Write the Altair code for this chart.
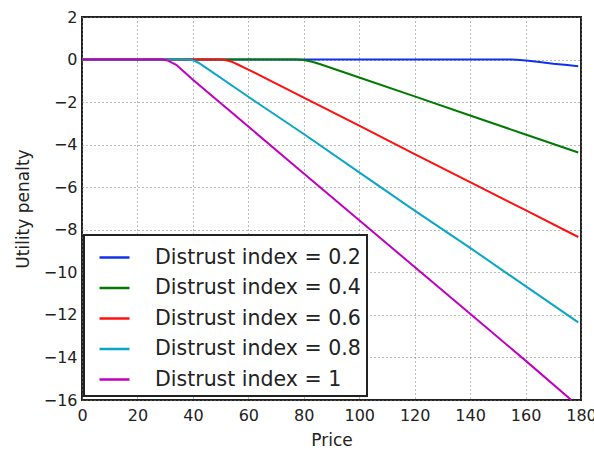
import altair as alt
import pandas as pd

labels = ["Distrust index = 0.2", "Distrust index = 0.4", "Distrust index = 0.6",
          "Distrust index = 0.8", "Distrust index = 1"]
colors = ["#1030f0", "#007a00", "#ff1010", "#0aa6c8", "#c000c0"]

price_02 = [0, 40, 80, 120, 150, 155, 158, 161, 165, 170, 175, 179]
pen_02 = [0, 0, 0, 0, 0, 0, -0.02, -0.06, -0.12, -0.2, -0.26, -0.31]

price_04 = [0, 40, 77, 80, 83, 86, 100, 120, 140, 160, 179]
pen_04 = [0, 0, 0, -0.02, -0.1, -0.22, -0.84, -1.73, -2.63, -3.52, -4.37]

price_06 = [0, 30, 50, 52, 54, 56, 60, 80, 100, 120, 140, 160, 179]
pen_06 = [0, 0, 0, -0.03, -0.1, -0.22, -0.47, -1.79, -3.11, -4.44, -5.76, -7.08, -8.34]

price_08 = [0, 20, 38, 40, 42, 44, 60, 80, 100, 120, 140, 160, 179]
pen_08 = [0, 0, 0, -0.03, -0.15, -0.32, -1.75, -3.5, -5.3, -7.1, -8.85, -10.65, -12.35]

price_10 = [0, 20, 29, 31, 34, 37, 40, 60, 80, 100, 120, 140, 160, 176.5]
pen_10 = [0, 0, 0, -0.05, -0.25, -0.6, -0.95, -3.15, -5.35, -7.55, -9.75, -11.95, -14.15, -16]

series = [(price_02, pen_02), (price_04, pen_04), (price_06, pen_06),
          (price_08, pen_08), (price_10, pen_10)]

rows = []
for lab, (xs, ys) in zip(labels, series):
    for i, (x, y) in enumerate(zip(xs, ys)):
        rows.append({"series": lab, "price": x, "penalty": y, "order": i})
df = pd.DataFrame(rows)

font = "DejaVu Sans"

chart = alt.Chart(df).mark_line(strokeWidth=2, clip=True).encode(
    x=alt.X("price:Q", title="Price",
            scale=alt.Scale(domain=[0, 180], nice=False, zero=False),
            axis=alt.Axis(values=list(range(0, 181, 20)), grid=True, ticks=False,
                          labelFontSize=16, titleFontSize=17, labelFont=font, titleFont=font,
                          titleFontWeight="normal",
                          labelColor="#222", titleColor="#222", labelPadding=7,
                          titlePadding=9, domain=False, gridColor="#777", gridDash=[1, 3],
                          gridWidth=1, labelFlush=False)),
    y=alt.Y("penalty:Q", title="Utility penalty",
            scale=alt.Scale(domain=[-16, 2], nice=False, zero=False),
            axis=alt.Axis(values=list(range(-16, 3, 2)), grid=True, ticks=False,
                          labelFontSize=16, titleFontSize=17, labelFont=font, titleFont=font,
                          titleFontWeight="normal",
                          labelColor="#222", titleColor="#222", labelPadding=5,
                          titlePadding=11, domain=False, gridColor="#777", gridDash=[1, 3],
                          gridWidth=1, labelFlush=False)),
    color=alt.Color("series:N", sort=labels,
                    scale=alt.Scale(domain=labels, range=colors),
                    legend=alt.Legend(title=None, orient="none", legendX=2, legendY=218,
                                      symbolType="stroke", symbolSize=900, symbolStrokeWidth=2.5,
                                      symbolOffset=8,
                                      labelFontSize=20.5, labelFont=font, labelColor="#222",
                                      labelOffset=24, rowPadding=3.5, padding=6,
                                      strokeColor="#222", fillColor="white",
                                      labelLimit=400)),
    order="order:Q",
).properties(
    width=499, height=383,
    autosize=alt.AutoSizeParams(type="none"),
    padding={"left": 82, "top": 17, "right": 13, "bottom": 50},
).configure_view(
    stroke="#222", strokeWidth=2
).configure_legend(
    strokeWidth=2
)

chart.save("out.html", embed_options={"renderer": "svg", "actions": False})
